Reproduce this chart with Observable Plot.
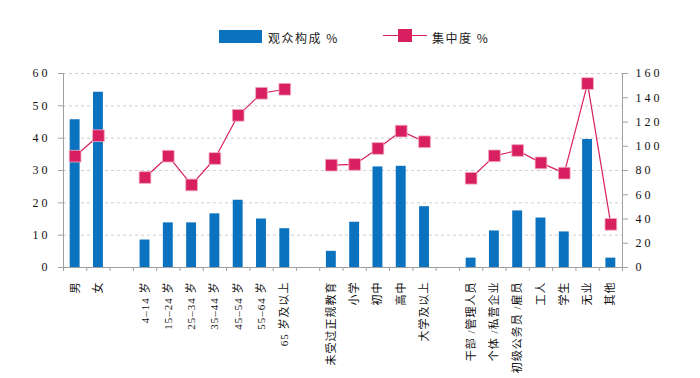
<!DOCTYPE html>
<html>
<head>
<meta charset="utf-8">
<script src="https://cdn.jsdelivr.net/npm/d3@7"></script>
<script src="https://cdn.jsdelivr.net/npm/@observablehq/plot@0.6"></script>
<style>
  html, body { margin: 0; padding: 0; background: #fff; }
  #wrap { position: relative; width: 700px; height: 378px; overflow: hidden; }
  #wrap svg { position: absolute; left: 0; top: 0; }
  g[aria-label="y-axis tick label"] text { letter-spacing: 3px; font-family: "Liberation Serif", serif; font-size: 12px; }
  g[aria-label="x-axis tick label"] text { letter-spacing: 1px; font-family: "Liberation Serif", "Noto Sans CJK SC", serif; font-size: 11px; }
  .lg { position: absolute; font-family: "Noto Sans CJK SC", sans-serif; font-size: 12px; letter-spacing: 1.5px; color: #222; line-height: 14px; }
</style>
</head>
<body>
<div id="wrap"></div>
<script>
// categories (blank strings are the gaps between groups)
const categories = ["男", "女", "",
  "4–14 岁", "15–24 岁", "25–34 岁", "35–44 岁", "45–54 岁", "55–64 岁", "65 岁及以上", "",
  "未受过正规教育", "小学", "初中", "高中", "大学及以上", "",
  "干部 /管理人员", "个体 /私营企业", "初级公务员 /雇员", "工人", "学生", "无业", "其他"];
// 观众构成 % (left axis)
const share = [45.7, 54.2, null,
  8.5, 13.8, 13.8, 16.6, 20.8, 15.0, 12.0, null,
  5.0, 14.0, 31.1, 31.3, 18.8, null,
  2.9, 11.3, 17.5, 15.3, 11.0, 39.6, 2.9];
// 集中度 % (right axis)
const conc = [91.8, 108.7, null,
  74.2, 91.8, 68.1, 89.9, 125.5, 143.7, 147, null,
  84.4, 85.0, 98.2, 112.5, 103.7, null,
  73.6, 92.1, 96.5, 86.3, 77.8, 151.7, 35.6];
const leftTicks = [0, 10, 20, 30, 40, 50, 60];
const rightTicks = [0, 20, 40, 60, 80, 100, 120, 140, 160];
const legendLabels = ["观众构成 %", "集中度 %"];

const BLUE = "#0A72BE", PINK = "#D81F60", AXIS = "#a0a0a0";
const leftMax = 60, rightMax = 160;
const toLeft = v => v * leftMax / rightMax;

const data = categories.map((c, i) => ({i, c, share: share[i], conc: conc[i]}));
const bars = data.filter(d => d.share != null);
const pts = data.filter(d => d.conc != null);
const n = categories.length;

const chart = Plot.plot({
  width: 700, height: 378,
  marginTop: 73, marginBottom: 111, marginLeft: 63, marginRight: 78,
  x: {domain: [0, n], axis: null},
  y: {domain: [0, leftMax], axis: null},
  style: {fontFamily: "Liberation Serif, serif", color: "#222", background: "#fff"},
  marks: [
    Plot.ruleY(leftTicks.filter(t => t > 0), {stroke: "#cfcfcf", strokeDasharray: "3,3", strokeWidth: 1}),
    Plot.rect(bars, {x1: "i", x2: d => d.i + 1, y1: 0, y2: "share", fill: BLUE, insetLeft: 6.7, insetRight: 6.7}),
    Plot.line(data, {x: d => d.i + 0.5, y: d => d.conc == null ? NaN : toLeft(d.conc), stroke: PINK, strokeWidth: 1.2}),
    Plot.dot(pts, {x: d => d.i + 0.5, y: d => toLeft(d.conc), symbol: "square", r: 6.6, fill: PINK, stroke: "#f3a9c3", strokeWidth: 0.8}),
    // frame lines
    Plot.ruleX([0, n], {y1: 0, y2: leftMax, stroke: AXIS}),
    Plot.ruleY([0], {stroke: AXIS}),
    // left axis
    Plot.axisY(leftTicks, {anchor: "left", tickSize: 5, tickPadding: 8, stroke: AXIS, fill: "#111", label: null}),
    // right axis (values mapped onto left scale)
    Plot.axisY(rightTicks.map(toLeft), {anchor: "right", tickSize: 5, tickPadding: 8, stroke: AXIS, fill: "#111", label: null,
      tickFormat: v => String(Math.round(v * rightMax / leftMax))}),
    // x ticks at slot boundaries
    Plot.axisX(d3.range(0, n + 1), {tickSize: 4, tickFormat: () => "", stroke: AXIS, label: null}),
    // x labels at slot centres
    Plot.axisX(d3.range(n).map(i => i + 0.5), {tickSize: 0, tickPadding: 14, tickRotate: -90, fill: "#111", label: null,
      tickFormat: v => categories[Math.round(v - 0.5)]})
  ]
});

const wrap = document.getElementById("wrap");
wrap.appendChild(chart);

function add(tag, css, text) {
  const el = document.createElement(tag);
  el.style.cssText = css;
  if (text) { el.className = "lg"; el.textContent = text; }
  wrap.appendChild(el);
  return el;
}
// legend
add("div", `position:absolute;left:219px;top:30px;width:43px;height:13px;background:${BLUE};`);
add("div", "left:268px;top:31px;", legendLabels[0]);
add("div", `position:absolute;left:383px;top:35px;width:44px;height:1.3px;background:${PINK};`);
add("div", `position:absolute;left:398px;top:29px;width:14px;height:13px;background:${PINK};`);
add("div", "left:432px;top:31px;", legendLabels[1]);
document.querySelectorAll(".lg").forEach(e => e.style.position = "absolute");
</script>
</body>
</html>
